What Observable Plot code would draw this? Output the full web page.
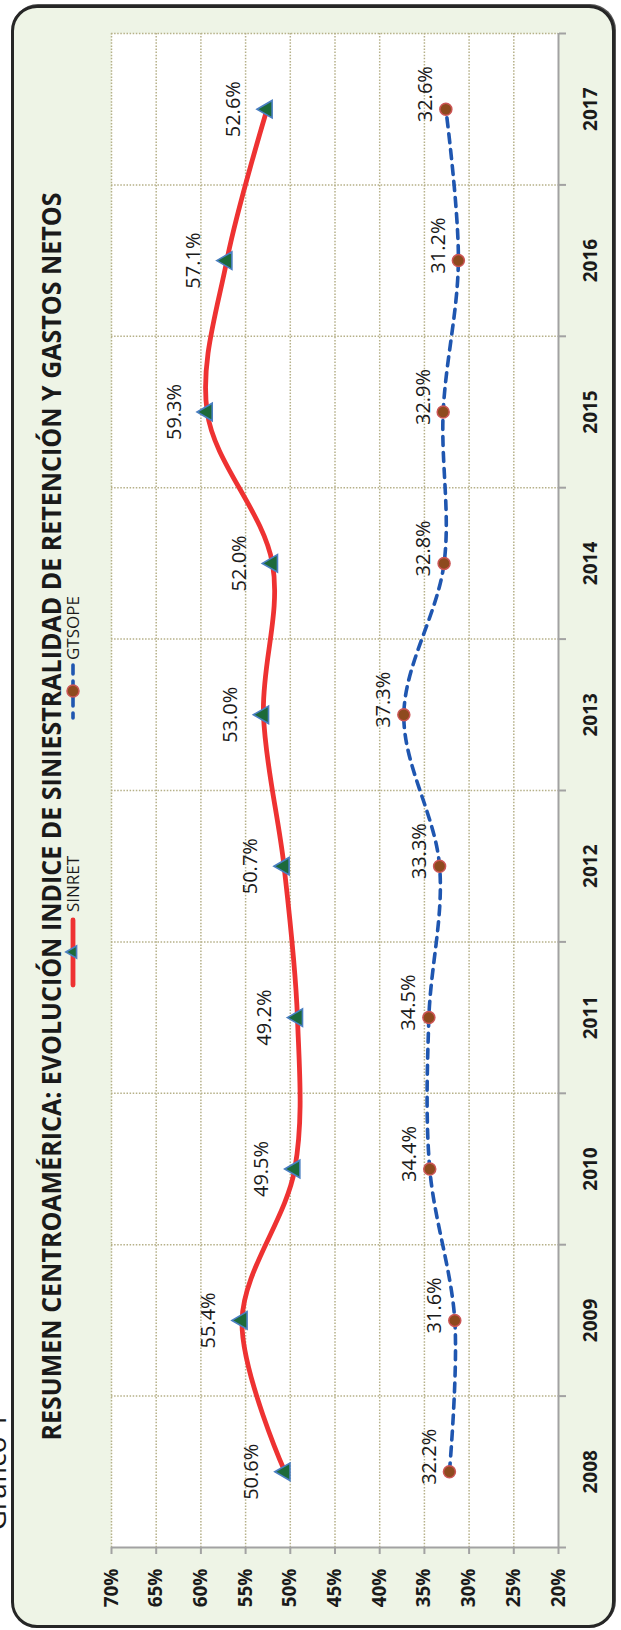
<!DOCTYPE html>
<html>
<head>
<meta charset="utf-8">
<script src="https://cdn.jsdelivr.net/npm/d3@7"></script>
<script src="https://cdn.jsdelivr.net/npm/@observablehq/plot@0.6"></script>
<style>
  html, body { margin: 0; padding: 0; background: #ffffff; }
  #wrap { position: relative; width: 621px; height: 1630px; overflow: hidden; }
  #frame { position: absolute; left: 11px; top: 5px; width: 604px; height: 1623px;
           box-sizing: border-box; border: 3px solid #262626; border-radius: 26px;
           background: #eef4e6; box-shadow: 1px -1px 0 #555; }
  #chart { position: absolute; left: 0; top: 0; }
</style>
</head>
<body>
<div id="wrap">
  <div id="frame"></div>
  <div id="chart"></div>
</div>
<script>
const years = [2008, 2009, 2010, 2011, 2012, 2013, 2014, 2015, 2016, 2017];
const sinret = [50.6, 55.4, 49.5, 49.2, 50.7, 53.0, 52.0, 59.3, 57.1, 52.6];
const gtsope = [32.2, 31.6, 34.4, 34.5, 33.3, 37.3, 32.8, 32.9, 31.2, 32.6];
const pctTicks = [70, 65, 60, 55, 50, 45, 40, 35, 30, 25, 20];
const seriesNames = ["SINRET", "GTSOPE"];
const chartTitle = "RESUMEN CENTROAMÉRICA: EVOLUCIÓN INDICE DE SINIESTRALIDAD DE RETENCIÓN Y GASTOS NETOS";
const figureLabel = "Gráfico 1";

const yearBounds = years.map(y => y - 0.5).concat([years[years.length - 1] + 0.5]);
const sinData = years.map((y, i) => ({year: y, v: sinret[i]}));
const gtsData = years.map((y, i) => ({year: y, v: gtsope[i]}));

const gridStyle = {stroke: "#b5b088", strokeOpacity: 1, strokeWidth: 1.5, strokeDasharray: "1.5,1.6"};
const axisGray = "#a2a2a2";
const fmt = v => v.toFixed(1) + "%";

const chart = Plot.plot({
  width: 621,
  height: 1630,
  marginLeft: 111,
  marginRight: 63,
  marginTop: 33,
  marginBottom: 83,
  style: {background: "transparent", overflow: "visible", fontFamily: "'Open Sans', sans-serif", color: "#1a1a1a"},
  x: {domain: [70, 20], axis: null},
  y: {domain: [2007.5, 2017.5], axis: null},
  marks: [
    Plot.frame({fill: "white", stroke: "none"}),
    Plot.gridX({ticks: pctTicks.filter(d => d !== 20), ...gridStyle}),
    Plot.gridY({ticks: yearBounds.filter(d => d !== 2007.5), ...gridStyle}),
    Plot.ruleY([2007.5], {stroke: axisGray, strokeWidth: 2}),
    Plot.ruleX([20], {stroke: axisGray, strokeWidth: 2}),
    Plot.axisX({anchor: "bottom", ticks: pctTicks, tickFormat: d => d + "%", tickSize: 7, tickPadding: 14,
      tickRotate: -90, textAnchor: "end", lineAnchor: "middle", stroke: axisGray, strokeWidth: 2,
      fill: "#1a1a1a", fontSize: 19, fontWeight: "bold", label: null}),
    Plot.axisY({anchor: "right", ticks: yearBounds, tickSize: 7, fill: "none", stroke: axisGray, strokeWidth: 2, label: null}),
    Plot.axisY({anchor: "right", ticks: years, tickSize: 0, tickPadding: 32, tickRotate: -90,
      textAnchor: "middle", lineAnchor: "middle", tickFormat: d => String(d),
      fill: "#1a1a1a", fontSize: 19, fontWeight: "bold", label: null}),
    Plot.line(gtsData, {x: "v", y: "year", curve: "catmull-rom", stroke: "#1f56b0", strokeWidth: 3.6,
      strokeDasharray: "9,7", strokeLinecap: "round"}),
    Plot.line(sinData, {x: "v", y: "year", curve: "catmull-rom", stroke: "#ee3232", strokeWidth: 4.8,
      strokeLinecap: "round"}),
    Plot.dot(sinData, {x: "v", y: "year", symbol: "triangle", rotate: -90, r: 6.5, fill: "#1c6a3a",
      stroke: "#4a7fc2", strokeWidth: 1.6}),
    Plot.dot(gtsData, {x: "v", y: "year", symbol: "circle", r: 6, fill: "#8e4a1e", stroke: "#cc5555", strokeWidth: 1.5}),
    Plot.text(sinData, {x: "v", y: "year", text: d => fmt(d.v), rotate: -90, dx: -33, fontSize: 20, fill: "#1a1a1a"}),
    Plot.text(gtsData, {x: "v", y: "year", text: d => fmt(d.v), rotate: -90, dx: -20, dy: -15, fontSize: 20, fill: "#1a1a1a"}),
    Plot.text([chartTitle], {frameAnchor: "left", dx: -59, dy: 650, rotate: -90, textAnchor: "start",
      fontSize: 26, fontWeight: "bold", fill: "#1a1a1a"}),
    Plot.text([figureLabel], {frameAnchor: "bottom-left", dx: -106, dy: -17, rotate: -90, lineAnchor: "bottom",
      fontSize: 28, fill: "#1a1a1a"})
  ]
});

document.getElementById("chart").appendChild(chart);

// squeeze title to the reference length
const svg = d3.select(chart);
svg.selectAll("text").filter(function() { return this.textContent === chartTitle; })
  .attr("textLength", 1248).attr("lengthAdjust", "spacingAndGlyphs");

// legend (rotated, in the left margin)
const lg = svg.append("g").attr("font-family", "'Open Sans', sans-serif").attr("text-anchor", "start");
// SINRET
lg.append("line").attr("x1", 73).attr("x2", 73).attr("y1", 920).attr("y2", 985)
  .attr("stroke", "#ee3232").attr("stroke-width", 4.8).attr("stroke-linecap", "round");
lg.append("path").attr("d", d3.symbol(d3.symbolTriangle2, 110)())
  .attr("transform", "translate(73,952) rotate(-90)")
  .attr("fill", "#1c6a3a").attr("stroke", "#4a7fc2").attr("stroke-width", 1.6);
lg.append("text").text(seriesNames[0]).attr("transform", "translate(73,912) rotate(-90)")
  .attr("dy", "0.35em").attr("font-size", 17).attr("fill", "#1a1a1a");
// GTSOPE
lg.append("line").attr("x1", 73).attr("x2", 73).attr("y1", 665).attr("y2", 718)
  .attr("stroke", "#1f56b0").attr("stroke-width", 3.6).attr("stroke-dasharray", "9,7").attr("stroke-linecap", "round");
lg.append("circle").attr("cx", 73).attr("cy", 691).attr("r", 6)
  .attr("fill", "#8e4a1e").attr("stroke", "#cc5555").attr("stroke-width", 1.5);
lg.append("text").text(seriesNames[1]).attr("transform", "translate(73,660) rotate(-90)")
  .attr("dy", "0.35em").attr("font-size", 17).attr("fill", "#1a1a1a");
</script>
</body>
</html>
